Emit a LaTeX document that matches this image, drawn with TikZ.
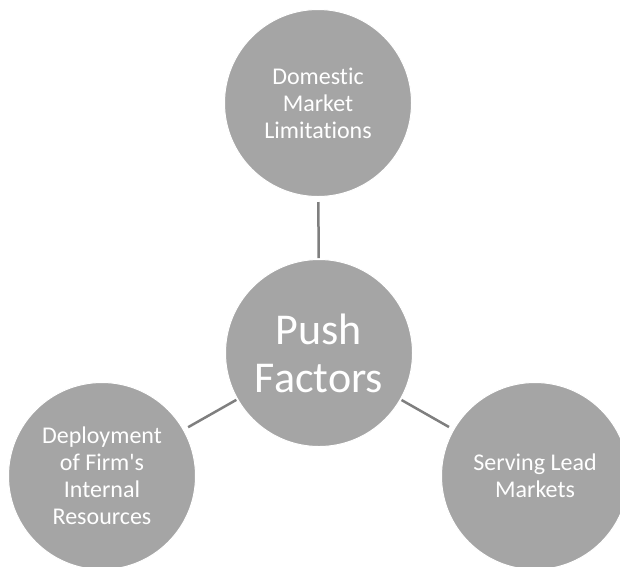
\documentclass[tikz,border=0pt]{standalone}
\usepackage{fontspec}
\setmainfont{Carlito}[RawFeature=-liga]
\definecolor{gr}{HTML}{A5A5A5}
\definecolor{ln}{HTML}{7F7F7F}

\begin{document}
\begin{tikzpicture}[x=1pt, y=-1pt,
    bubble/.style={circle, fill=gr, draw=white, line width=1pt, minimum size=187pt,
        inner sep=0pt, text=white, align=center, font=\fontsize{24}{27}\selectfont},
    link/.style={ln, line width=2.5pt, shorten >=5pt, shorten <=1pt}]

			\useasboundingbox (0,0) rectangle (620,566);

			\node[bubble, font=\fontsize{44}{48}\selectfont] (push) at (319,353) {Push\\Factors};

			\node[bubble] (domestic) at (318,103) {Domestic\\Market\\Limitations};
			\node[bubble] (deploy) at (102,476) {Deployment\\of Firm\textquotesingle s\\Internal\\Resources};
			\node[bubble] (lead) at (535,476) {Serving Lead\\Markets};

			\foreach \n in {domestic, deploy, lead} {
					\draw[link] (push) -- (\n);
				}

		\end{tikzpicture}
\end{document}
